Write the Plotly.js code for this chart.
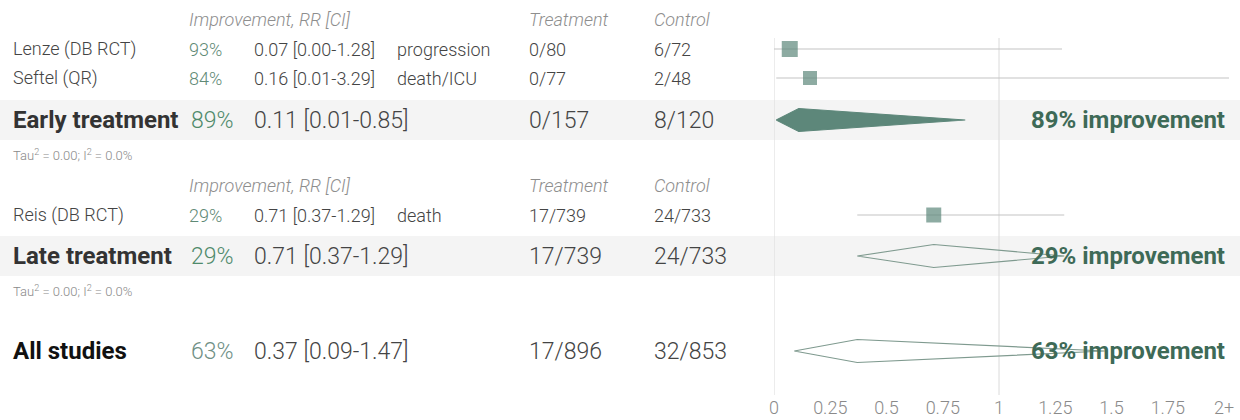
<!DOCTYPE html>
<html><head><meta charset="utf-8">
<script src="https://cdn.plot.ly/plotly-3.0.1.min.js"></script>
<style>html,body{margin:0;padding:0;background:#fff}#chart{width:1240px;height:420px}</style>
</head><body><div id="chart"></div>
<script>
// ---- data ----
const studies = ["Lenze (DB RCT)", "Seftel (QR)", "Reis (DB RCT)"];
const studyImprovement = ["93%", "84%", "29%"];
const studyRR = [0.07, 0.16, 0.71];
const studyLo = [0.00, 0.01, 0.37];
const studyHi = [1.28, 3.29, 1.29];
const studyOutcome = ["progression", "death/ICU", "death"];
const studyTreatment = ["0/80", "0/77", "17/739"];
const studyControl = ["6/72", "2/48", "24/733"];

const groups = ["Early treatment", "Late treatment", "All studies"];
const groupImprovement = ["89%", "29%", "63%"];
const groupRR = [0.11, 0.71, 0.37];
const groupLo = [0.01, 0.37, 0.09];
const groupHi = [0.85, 1.29, 1.47];
const groupTreatment = ["0/157", "17/739", "17/896"];
const groupControl = ["8/120", "24/733", "32/853"];
const heterogeneity = ["Tau<sup>2</sup> = 0.00; I<sup>2</sup> = 0.0%", "Tau<sup>2</sup> = 0.00; I<sup>2</sup> = 0.0%"];

const tickVals = [0, 0.25, 0.5, 0.75, 1, 1.25, 1.5, 1.75, 2];
const tickText = ["0", "0.25", "0.5", "0.75", "1", "1.25", "1.5", "1.75", "2+"];
const headers = ["Improvement, RR [CI]", "Treatment", "Control"];

// ---- layout (pixel positions) ----
const W = 1240;
const studyY = [49, 78, 215];
const groupY = [120, 256, 351];
const headerY = [19, 185];
const tauY = [155, 291];
const bandY = [[100, 140], [236, 276]];
const markerSize = [16, 14, 15];
const col = {name: 11, pct: 187, pctG: 189, rr: 252, outcome: 395, treat: 527, ctrl: 652, right: 1227};
const FONT = "Roboto, 'Open Sans', sans-serif";
const green = "#5d877a";

const fmt = (r, l, h) => r.toFixed(2) + " [" + l.toFixed(2) + "-" + h.toFixed(2) + "]";

const ann = [];
function txt(x, y, text, size, color, opts) {
  opts = opts || {};
  ann.push(Object.assign({
    xref: "paper", yref: "y", x: x / W, y: y, text: text, showarrow: false,
    xanchor: "left", yanchor: "middle",
    font: {family: FONT, size: size, color: color, weight: opts.weight || 300, style: opts.style || "normal"}
  }, opts.extra || {}));
}

headerY.forEach(y => {
  txt(col.pct, y, headers[0], 18, "#8e8e8e", {style: "italic"});
  txt(col.treat, y, headers[1], 18, "#8e8e8e", {style: "italic"});
  txt(col.ctrl, y, headers[2], 18, "#8e8e8e", {style: "italic"});
});

studies.forEach((s, i) => {
  const y = studyY[i];
  txt(col.name, y, s, 18, "#444");
  txt(col.pct, y, studyImprovement[i], 18, "#5f8a76");
  txt(col.rr, y, fmt(studyRR[i], studyLo[i], studyHi[i]), 18, "#444");
  txt(col.outcome, y, studyOutcome[i], 18, "#444");
  txt(col.treat, y, studyTreatment[i], 18, "#444");
  txt(col.ctrl, y, studyControl[i], 18, "#444");
});

groups.forEach((g, i) => {
  const y = groupY[i];
  txt(col.name, y, g, 24, i === 2 ? "#111" : "#333", {weight: 700});
  txt(col.pctG, y, groupImprovement[i], 23, i === 2 ? "#6f8f85" : "#4f8a6b");
  txt(col.rr, y, fmt(groupRR[i], groupLo[i], groupHi[i]), 23, "#444");
  txt(col.treat, y, groupTreatment[i], 23, "#444");
  txt(col.ctrl, y, groupControl[i], 23, "#444");
  txt(col.right, y, groupImprovement[i] + " improvement", 24, "#3e6a57", {weight: 700, extra: {xanchor: "right"}});
});

heterogeneity.forEach((t, i) => txt(col.name, tauY[i], t, 13, "#8a8a8a"));

// ---- traces ----
const traces = [];
traces.push({
  type: "scatter", mode: "markers", x: studyRR, y: studyY, hoverinfo: "skip", cliponaxis: true,
  marker: {symbol: "square", size: markerSize, color: green, line: {width: 0}},
  error_x: {type: "data", symmetric: false,
    array: studyHi.map((h, i) => h - studyRR[i]),
    arrayminus: studyLo.map((l, i) => studyRR[i] - l),
    color: "#c4c4c4", thickness: 1.2, width: 0}
});
const dh = 11.5;
groups.forEach((g, i) => {
  const y = groupY[i];
  const filled = i === 0;
  traces.push({
    type: "scatter", mode: "lines", hoverinfo: "skip",
    x: [groupLo[i], groupRR[i], groupHi[i], groupRR[i], groupLo[i]],
    y: [y, y - dh, y, y + dh, y],
    fill: "toself",
    fillcolor: filled ? green : "rgba(0,0,0,0)",
    line: {color: filled ? green : "#7f9a8f", width: 1.2}
  });
});

const shapes = [];
bandY.forEach(b => shapes.push({type: "rect", xref: "paper", yref: "y", x0: 0, x1: 1, y0: b[0], y1: b[1],
  fillcolor: "#f4f4f4", line: {width: 0}, layer: "below"}));
[0, 1].forEach(v => shapes.push({type: "line", xref: "x", yref: "y", x0: v, x1: v, y0: 38, y1: 395,
  line: {color: "#dadada", width: 1}, layer: "below"}));

const layout = {
  width: 1240, height: 420,
  margin: {l: 0, r: 0, t: 0, b: 25},
  paper_bgcolor: "#fff", plot_bgcolor: "rgba(0,0,0,0)",
  showlegend: false,
  xaxis: {domain: [774 / W, 1229 / W], range: [0, (1229 - 774) / 225],
    tickvals: tickVals, ticktext: tickText, showgrid: false, zeroline: false, showline: false,
    ticks: "", tickfont: {family: FONT, size: 18, color: "#8a8a8a", weight: 300}, fixedrange: true},
  yaxis: {range: [395, 0], visible: false, fixedrange: true},
  shapes: shapes, annotations: ann
};
Plotly.newPlot("chart", traces, layout, {staticPlot: true, displayModeBar: false});
</script></body></html>
